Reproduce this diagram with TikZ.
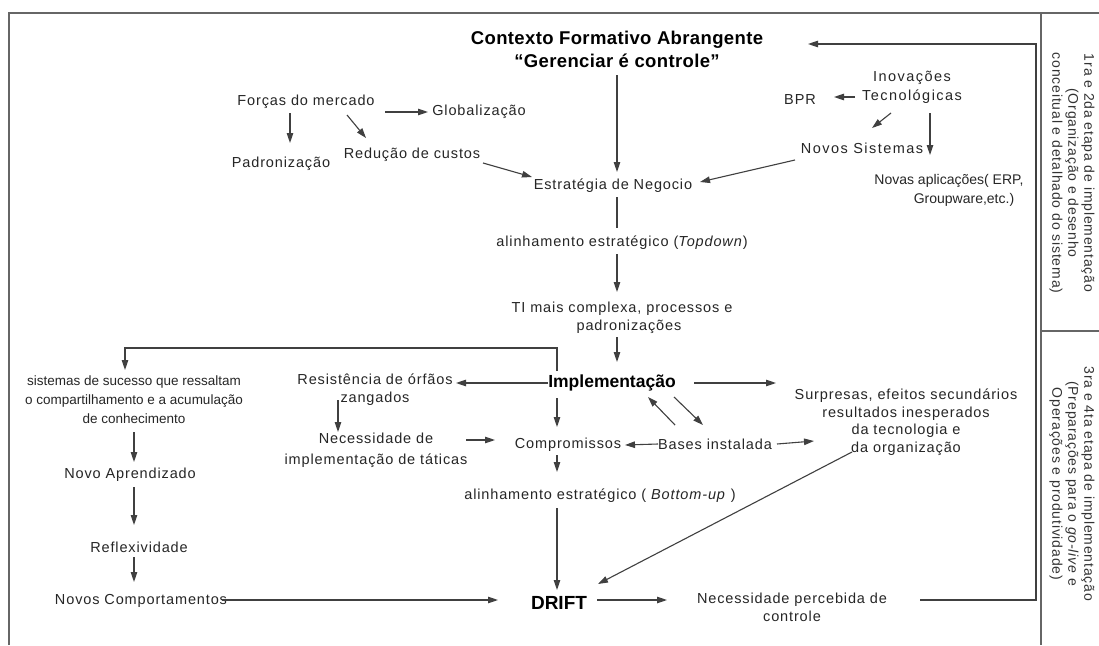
\documentclass[tikz,border=0pt]{standalone}
\usepackage{fontspec}
\setmainfont{Liberation Sans}
\newfontfamily\wide{Liberation Sans}[LetterSpace=6]
\newfontfamily\wider{Liberation Sans}[LetterSpace=10]
\usetikzlibrary{arrows.meta,calc}

\begin{document}
\begin{tikzpicture}[x=1pt,y=-1pt,
  txt/.style={font=\wide\fontsize{14.5}{18}\selectfont, text=black!85, align=center, inner sep=1pt},
  loose/.style={txt, font=\wider\fontsize{14.5}{19}\selectfont},
  bold/.style={txt, text=black},
  arr/.style={draw=black!75, line width=1.1pt, -{Triangle[length=10pt,width=6.5pt]}},
  plain/.style={draw=black!75, line width=1.1pt},
  frame/.style={draw=black!60, line width=1.3pt},
  side/.style={font=\wide\fontsize{14}{16}\selectfont, text=black!80, align=center, rotate=-90, inner sep=0pt}
]
\useasboundingbox (0,0) rectangle (1099,645);
\fill[white] (0,0) rectangle (1099,645);

% frame and side panels
\draw[frame] (9,645) -- (9,13) -- (1099,13);
\draw[frame] (1041,13) -- (1041,645);
\draw[frame] (1041,331) -- (1099,331);

\node[side] (fase1) at (1072,173) {1ra e 2da etapa de implementação\\(Organização e desenho\\conceitual e detalhado do sistema)};
\node[side] (fase2) at (1072,484) {3ra e 4ta etapa de implementação\\(Preparações para o \textit{go-live} e\\Operações e produtividade)};

% upper part
\node[bold, font=\fontsize{18.5}{23}\selectfont\bfseries\addfontfeature{LetterSpace=2}] (title) at (617,49) {Contexto Formativo Abrangente\\“Gerenciar é controle”};
\node[txt] (estr) at (613,186) {Estratégia de Negocio};
\node[txt] (forcas) at (306,102) {Forças do mercado};
\node[txt] (glob) at (479,112) {Globalização};
\node[txt] (padron) at (281,164) {Padronização};
\node[txt] (reduc) at (412,155) {Redução de custos};
\node[loose] (inov) at (912,87) {Inovações\\Tecnológicas};
\node[txt] (bpr) at (800,100) {BPR};
\node[loose] (novsis) at (862,148) {Novos Sistemas};
\node[txt, font=\fontsize{14}{19}\selectfont] (novapl) at (949,190) {Novas aplicações( ERP,\\\hspace*{30pt}Groupware,etc.)};
\node[txt] (alinTD) at (622,243) {alinhamento estratégico (\textit{Topdown})};
\node[txt] (ti) at (622,318) {TI mais complexa, processos e\\\hspace*{14pt}padronizações};

% implementation
\node[bold, font=\fontsize{17.5}{20}\selectfont\bfseries] (impl) at (612,383) {Implementação};
\node[txt, font=\fontsize{13.5}{19}\selectfont] (sist) at (134,400) {sistemas de sucesso que ressaltam\\o compartilhamento e a acumulação\\de conhecimento};
\node[txt] (resist) at (375,390) {Resistência de órfãos\\zangados};
\node[txt, font=\wide\fontsize{14.5}{21}\selectfont] (necimpl) at (376,450) {Necessidade de\\implementação de táticas};
\node[txt] (compr) at (568,445) {Compromissos};
\node[txt] (bases) at (715,444) {Bases instalada};
\node[txt, font=\wide\fontsize{14.5}{17.5}\selectfont] (surp) at (906,422) {Surpresas, efeitos secundários\\resultados inesperados\\da tecnologia e\\da organização};
\node[txt] (alinBU) at (600,496) {alinhamento estratégico ( \textit{Bottom-up} )};

% lower part
\node[bold, font=\fontsize{19}{22}\selectfont\bfseries] (drift) at (559,603) {DRIFT};
\node[txt] (necperc) at (792,607) {Necessidade percebida de\\controle};
\node[txt] (novoap) at (130,475) {Novo Aprendizado};
\node[txt] (reflex) at (139,547) {Reflexividade};
\node[txt] (novcomp) at (141,601) {Novos Comportamentos};

% connectors
\draw[arr] ($(title)+(0,26)$) -- ($(estr)+(4,-14)$);
\draw[arr] ($(forcas)+(79,10)$) -- ($(glob)+(-51,0)$);
\draw[arr] ($(forcas)+(-16,11)$) -- ($(padron)+(9,-21)$);
\draw[arr] ($(forcas)+(41,13)$) -- ($(reduc)+(-46,-17)$);
\draw[arr] ($(reduc)+(71,8)$) -- ($(estr)+(-81,-9)$);
\draw[arr] ($(inov)+(-57,10)$) -- ($(bpr)+(34,-3)$);
\draw[arr] ($(inov)+(-21,26)$) -- ($(novsis)+(10,-20)$);
\draw[arr] ($(inov)+(18,26)$) -- ($(novapl)+(-19,-35)$);
\draw[arr] ($(novsis)+(-67,12)$) -- ($(estr)+(87,-4)$);
\draw[plain] ($(estr)+(4,11)$) -- ($(alinTD)+(-5,-15)$);
\draw[arr] ($(alinTD)+(-5,11)$) -- ($(ti)+(-5,-26)$);
\draw[arr] ($(ti)+(-5,19)$) -- ($(impl)+(5,-21)$);

\draw[arr] ($(impl)+(-55,-12)$) -- ++(0,-23) -| ($(sist)+(-9,-30)$);
\draw[arr] ($(impl)+(-64,0)$) -- ($(resist)+(81,-7)$);
\draw[arr] ($(resist)+(-37,10)$) -- ($(necimpl)+(-38,-18)$);
\draw[arr] ($(necimpl)+(90,-10)$) -- ($(compr)+(-73,-5)$);
\draw[arr] ($(impl)+(-55,15)$) -- ($(compr)+(-11,-18)$);
\draw[arr] ($(bases)+(-57,0)$) -- ($(compr)+(57,0)$);
\draw[arr] ($(bases)+(62,0)$) -- ($(surp)+(-92,19)$);
\draw[arr] ($(bases)+(-40,-19)$) -- ($(impl)+(36,14)$);
\draw[arr] ($(impl)+(62,14)$) -- ($(bases)+(-12,-19)$);
\draw[arr] ($(impl)+(82,0)$) -- ($(surp)+(-130,-39)$);
\draw[arr] ($(surp)+(-54,30)$) -- ($(drift)+(39,-19)$);
\draw[arr] ($(compr)+(-11,10)$) -- ($(alinBU)+(-43,-24)$);
\draw[arr] ($(alinBU)+(-43,12)$) -- ($(drift)+(-2,-13)$);
\draw[arr] ($(drift)+(38,-3)$) -- ($(necperc)+(-125,-7)$);
\draw[arr] ($(necperc)+(128,-7)$) -| ($(title)+(419,-5)$) -- ($(title)+(191,-5)$);

\draw[arr] ($(sist)+(0,32)$) -- ($(novoap)+(4,-13)$);
\draw[arr] ($(novoap)+(4,12)$) -- ($(reflex)+(-5,-22)$);
\draw[arr] ($(reflex)+(-5,10)$) -- ($(novcomp)+(-7,-19)$);
\draw[arr] ($(novcomp)+(81,-1)$) -- ($(drift)+(-61,-3)$);
\end{tikzpicture}
\end{document}
